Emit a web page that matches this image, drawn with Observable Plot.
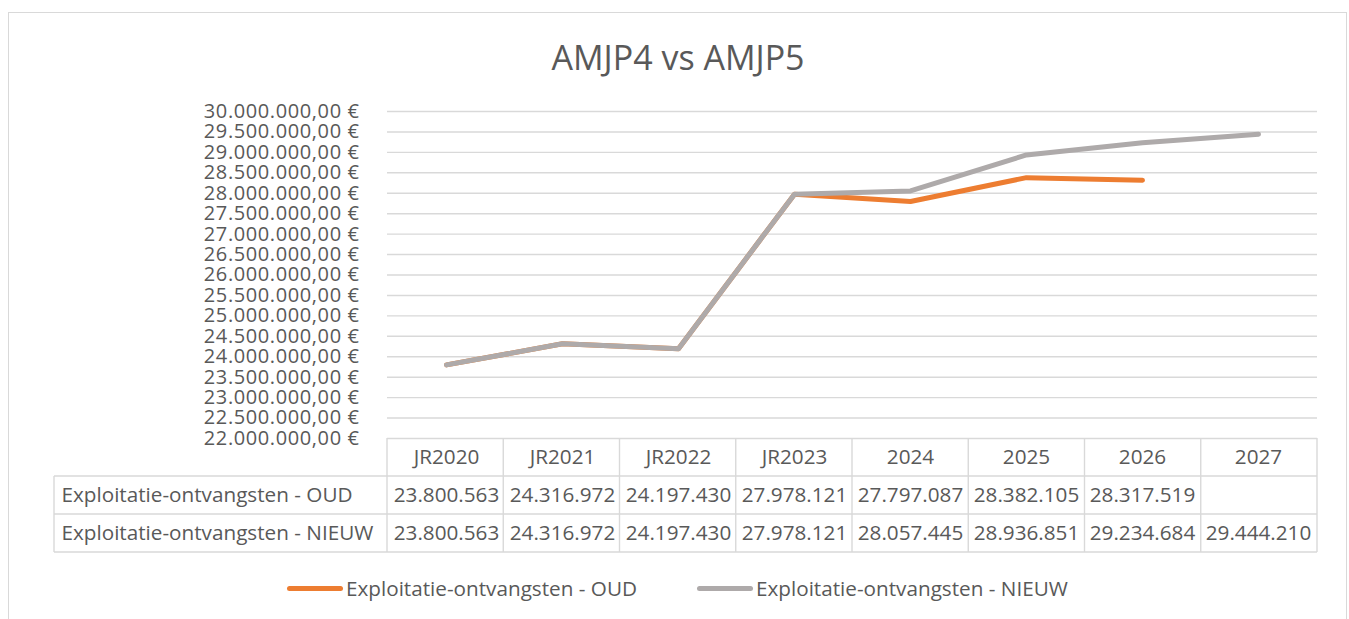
<!DOCTYPE html>
<html>
<head>
<meta charset="utf-8">
<script src="https://cdn.jsdelivr.net/npm/d3@7"></script>
<script src="https://cdn.jsdelivr.net/npm/@observablehq/plot@0.6"></script>
<style>
  html, body { margin: 0; padding: 0; background: #fff; overflow: hidden; }
  #wrap { position: relative; width: 1349px; height: 619px; font-family: "Open Sans", sans-serif; color: #595959; }
  #frame { position: absolute; left: 8px; top: 12px; width: 1339px; height: 640px; border: 1.5px solid #d9d9d9; box-sizing: border-box; }
  #title { position: absolute; left: 0; width: 1356px; top: 34px; text-align: center; font-size: 34px; line-height: 46px; color: #595959; }
  #legend { position: absolute; top: 574px; left: 0; width: 1349px; height: 28px; font-size: 20.7px; }
  .item { position: absolute; top: 0; display: flex; align-items: center; height: 28px; }
  .sw { width: 56px; height: 5px; border-radius: 3px; margin-right: 3px; }
  #chart { position: absolute; left: 0; top: 0; }
</style>
</head>
<body>
<div id="wrap">
  <div id="frame"></div>
  <div id="chart"></div>
  <div id="title"></div>
  <div id="legend"></div>
</div>
<script>
const titleText = "AMJP4 vs AMJP5";
const categories = ["JR2020", "JR2021", "JR2022", "JR2023", "2024", "2025", "2026", "2027"];
const seriesNames = ["Exploitatie-ontvangsten - OUD", "Exploitatie-ontvangsten - NIEUW"];
const oud = [23800563, 24316972, 24197430, 27978121, 27797087, 28382105, 28317519, null];
const nieuw = [23800563, 24316972, 24197430, 27978121, 28057445, 28936851, 29234684, 29444210];
const yTicks = [22000000, 22500000, 23000000, 23500000, 24000000, 24500000, 25000000, 25500000,
  26000000, 26500000, 27000000, 27500000, 28000000, 28500000, 29000000, 29500000, 30000000];
const colors = ["#ED7D31", "#AEAAAA"];

const locale = d3.formatLocale({decimal: ",", thousands: ".", grouping: [3], currency: ["", " €"]});
const fmtAxis = locale.format("$,.2f");
const fmtTable = locale.format(",d");

const rows = [oud, nieuw];
const lineData = rows.map((vals, s) => categories.map((c, i) => ({cat: c, value: vals[i], series: seriesNames[s]})));
const cells = rows.flatMap((vals, s) => categories.map((c, i) => ({cat: c, value: vals[i], row: s})));

const textColor = "#595959";
const rowH = 38;
const fs = 20.7;

const plot = Plot.plot({
  width: 1349,
  height: 619,
  marginTop: 111,
  marginBottom: 181,
  marginLeft: 387,
  marginRight: 32,
  x: {type: "band", domain: categories, padding: 0, axis: null},
  y: {domain: [22000000, 30000000], axis: null},
  style: {fontFamily: "Open Sans", fontSize: "20px", color: textColor, background: "transparent", overflow: "visible"},
  marks: [
    Plot.ruleY(yTicks, {y: d => d, stroke: "#d9d9d9", strokeWidth: 1.4}),
    Plot.text(yTicks, {y: d => d, text: d => fmtAxis(d), frameAnchor: "left", dx: -28, textAnchor: "end", fill: textColor, fontSize: 20}),
    Plot.line(lineData[0].filter(d => d.value != null), {x: "cat", y: "value", stroke: colors[0], strokeWidth: 5, strokeLinecap: "round", strokeLinejoin: "round"}),
    Plot.line(lineData[1], {x: "cat", y: "value", stroke: colors[1], strokeWidth: 5, strokeLinecap: "round", strokeLinejoin: "round"}),
    // data table: header row
    Plot.text(categories, {x: d => d, y: () => 22000000, dy: rowH * 0.5, text: d => d, fill: textColor, fontSize: fs}),
    // data table: value rows
    Plot.text(cells.filter(d => d.value != null && d.row === 0), {x: "cat", y: () => 22000000, dy: rowH * 1.5, text: d => fmtTable(d.value), fill: textColor, fontSize: fs}),
    Plot.text(cells.filter(d => d.value != null && d.row === 1), {x: "cat", y: () => 22000000, dy: rowH * 2.5, text: d => fmtTable(d.value), fill: textColor, fontSize: fs}),
    // data table: row labels
    Plot.text([seriesNames[0]], {y: () => 22000000, frameAnchor: "left", dx: -326, dy: rowH * 1.5, textAnchor: "start", text: d => d, fill: textColor, fontSize: fs}),
    Plot.text([seriesNames[1]], {y: () => 22000000, frameAnchor: "left", dx: -326, dy: rowH * 2.5, textAnchor: "start", text: d => d, fill: textColor, fontSize: fs})
  ]
});

// slightly wider axis labels, as in the reference
const svg = d3.select(plot.tagName.toLowerCase() === "svg" ? plot : plot.querySelector("svg"));
svg.selectAll("text").filter(function() { return /€$/.test(this.textContent); }).attr("letter-spacing", "0.6px");

// table grid lines derived from the plot's own scales
const xs = plot.scale("x");
const ys = plot.scale("y");
const x0 = xs.range[0], x1 = xs.range[1];
const step = (x1 - x0) / categories.length;
const base = ys.apply(22000000);
const leftEdge = x0 - 333;
const g = svg.append("g").attr("stroke", "#d9d9d9").attr("stroke-width", 1.4);
for (let r = 1; r <= 3; r++) {
  g.append("line").attr("x1", leftEdge).attr("x2", x1).attr("y1", base + r * rowH).attr("y2", base + r * rowH);
}
for (let k = 0; k <= categories.length; k++) {
  g.append("line").attr("x1", x0 + k * step).attr("x2", x0 + k * step).attr("y1", base).attr("y2", base + 3 * rowH);
}
g.append("line").attr("x1", leftEdge).attr("x2", leftEdge).attr("y1", base + rowH).attr("y2", base + 3 * rowH);

document.getElementById("chart").appendChild(plot);
document.getElementById("title").textContent = titleText;

const legend = document.getElementById("legend");
const legendX = [287, 697];
seriesNames.forEach((name, i) => {
  const item = document.createElement("div");
  item.className = "item";
  item.style.left = legendX[i] + "px";
  const sw = document.createElement("div");
  sw.className = "sw";
  sw.style.background = colors[i];
  const t = document.createElement("span");
  t.textContent = name;
  item.appendChild(sw);
  item.appendChild(t);
  legend.appendChild(item);
});
</script>
</body>
</html>
